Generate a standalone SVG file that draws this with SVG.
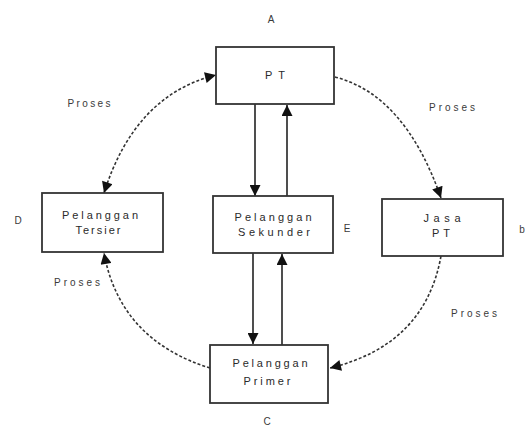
<svg xmlns="http://www.w3.org/2000/svg" width="525" height="430" viewBox="0 0 525 430">
  <defs>
    <marker id="head" viewBox="0 0 10 10" refX="10" refY="5" markerUnits="userSpaceOnUse" markerWidth="14" markerHeight="11" orient="auto-start-reverse">
      <path d="M0,0 L10,5 L0,10 z" fill="#111"/>
    </marker>
    <style>
      .box { fill: #fff; stroke: #333; stroke-width: 1.8; }
      .lbl { font-family: "Liberation Sans", Arial, sans-serif; font-size: 11px; fill: #2a2a2a; text-anchor: middle; }
      .tag { font-family: "Liberation Sans", Arial, sans-serif; font-size: 10px; fill: #3a3a3a; text-anchor: middle; }
      .solid { fill: none; stroke: #222; stroke-width: 1.6; }
      .dash { fill: none; stroke: #333; stroke-width: 1.6; stroke-dasharray: 3 2; }
    </style>
  </defs>
  <rect width="525" height="430" fill="#fff"/>

  <!-- connectors -->
  <g id="connectors">
    <path class="solid" d="M255,104 L255,196" marker-end="url(#head)"/>
    <path class="solid" d="M287,196 L287,105" marker-end="url(#head)"/>
    <path class="solid" d="M253,253 L253,344" marker-end="url(#head)"/>
    <path class="solid" d="M282,345 L282,254" marker-end="url(#head)"/>
    <path class="dash" d="M335,77 Q405,95 441,198" marker-end="url(#head)"/>
    <path class="dash" d="M441,256 Q425,345 330,368" marker-end="url(#head)"/>
    <path class="dash" d="M210,368 Q120,340 104,253" marker-end="url(#head)"/>
    <path class="dash" d="M104,193 Q135,95 216,75" marker-start="url(#head)" marker-end="url(#head)"/>
  </g>

  <!-- nodes -->
  <g id="pt">
    <rect class="box" x="216" y="47" width="118" height="57"/>
    <text class="lbl" x="275" y="79" font-size="13" textLength="20" lengthAdjust="spacing">PT</text>
  </g>
  <g id="tersier">
    <rect class="box" x="42" y="193" width="121" height="59"/>
    <text class="lbl" x="100" y="219" textLength="76" lengthAdjust="spacing">Pelanggan</text>
    <text class="lbl" x="98" y="234" textLength="45" lengthAdjust="spacing">Tersier</text>
  </g>
  <g id="sekunder">
    <rect class="box" x="213" y="196" width="120" height="57"/>
    <text class="lbl" x="273" y="221" textLength="77" lengthAdjust="spacing">Pelanggan</text>
    <text class="lbl" x="274" y="236" textLength="72" lengthAdjust="spacing">Sekunder</text>
  </g>
  <g id="jasa">
    <rect class="box" x="382" y="199" width="121" height="57"/>
    <text class="lbl" x="442" y="222" textLength="37" lengthAdjust="spacing">Jasa</text>
    <text class="lbl" x="441" y="237" textLength="18" lengthAdjust="spacing">PT</text>
  </g>
  <g id="primer">
    <rect class="box" x="210" y="345" width="118" height="58"/>
    <text class="lbl" x="270" y="367" textLength="75" lengthAdjust="spacing">Pelanggan</text>
    <text class="lbl" x="267" y="385" textLength="47" lengthAdjust="spacing">Primer</text>
  </g>

  <!-- side letters -->
  <g id="letters">
    <text class="tag" x="271" y="23">A</text>
    <text class="tag" x="18" y="224">D</text>
    <text class="tag" x="347" y="232">E</text>
    <text class="tag" x="522" y="233">b</text>
    <text class="tag" x="267" y="425">C</text>
  </g>

  <!-- process labels -->
  <g id="proses">
    <text class="tag" x="89" y="107" textLength="43" lengthAdjust="spacing">Proses</text>
    <text class="tag" x="452" y="111" textLength="46" lengthAdjust="spacing">Proses</text>
    <text class="tag" x="77" y="286" textLength="46" lengthAdjust="spacing">Proses</text>
    <text class="tag" x="474" y="317" textLength="46" lengthAdjust="spacing">Proses</text>
  </g>
</svg>
